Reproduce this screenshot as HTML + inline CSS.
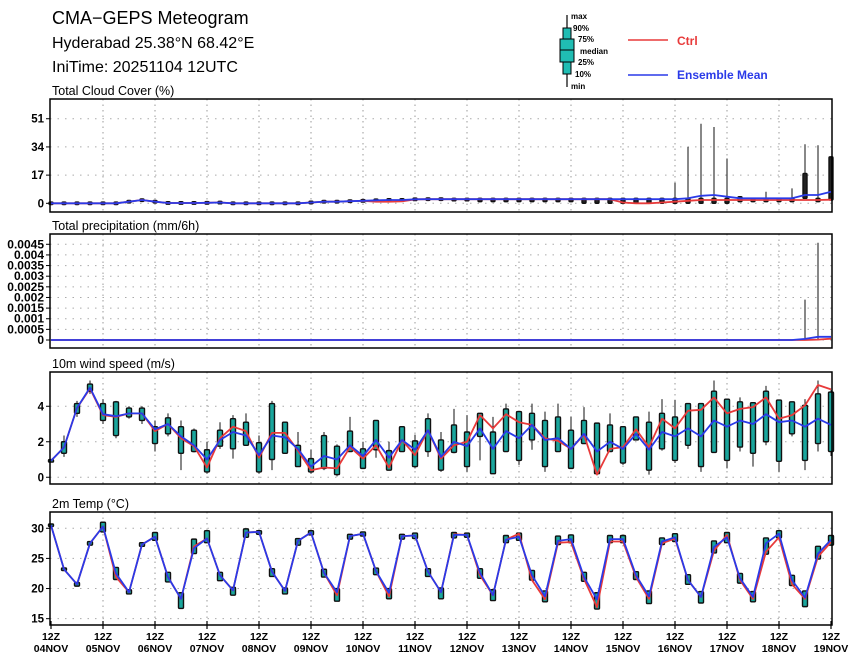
<!DOCTYPE html>
<html><head><meta charset="utf-8">
<style>
html,body{margin:0;padding:0;background:#fff;}
svg{display:block;font-family:"Liberation Sans",sans-serif;}
</style></head>
<body>
<svg id="chart" width="860" height="662" viewBox="0 0 860 662">
<g>
<text x="52" y="24" font-size="18">CMA−GEPS Meteogram</text>
<text x="52" y="48" font-size="16">Hyderabad 25.38°N 68.42°E</text>
<text x="52" y="72" font-size="16">IniTime: 20251104 12UTC</text>
</g>
<g font-weight="bold" font-size="8">
<line x1="567" y1="15" x2="567" y2="87" stroke="#000" stroke-width="1.2"/>
<rect x="563" y="28" width="8" height="46" fill="#20bdb3" stroke="#000"/>
<rect x="560" y="39" width="14" height="23" fill="#20bdb3" stroke="#000"/>
<line x1="560" y1="50" x2="574" y2="50" stroke="#000"/>
<text x="571" y="19">max</text>
<text x="573" y="31">90%</text>
<text x="578" y="42">75%</text>
<text x="580" y="54">median</text>
<text x="578" y="65">25%</text>
<text x="575" y="77">10%</text>
<text x="571" y="89">min</text>
<line x1="628" y1="40" x2="668" y2="40" stroke="#e83a3a" stroke-width="1.5"/>
<text x="677" y="45" font-size="12" fill="#e83a3a">Ctrl</text>
<line x1="628" y1="75" x2="668" y2="75" stroke="#2a3ae8" stroke-width="1.5"/>
<text x="677" y="79" font-size="12" fill="#2a3ae8">Ensemble Mean</text>
</g>
</svg>
<script>
// ---- time axis ----
const dayLabels = ["04NOV","05NOV","06NOV","07NOV","08NOV","09NOV","10NOV","11NOV","12NOV","13NOV","14NOV","15NOV","16NOV","17NOV","18NOV","19NOV"];
const nSteps = 61;

// ---- cloud cover ----
const cloudTicks = [0,17,34,51];
const cloudMean = [0,0,0,0,0,0,1,2,1,0.2,0.2,0.2,0.3,0.5,0,0,0,0,0,0,0.5,1,1,1.3,1.5,1.8,2,2,2.4,2.5,2.5,2.5,2.5,2.5,2.5,2.5,2.5,2.5,2.5,2.5,2.5,2.5,2.5,2.5,2.5,2.5,2.5,2.5,2.5,3,4.5,5,4,3,3,3,3,3,5,5,7];
const cloudCtrl = [0,0,0,0,0,0,1,2,1,0.2,0.2,0.2,0.3,0.5,0,0,0,0,0,0,0.5,1,1,1.3,1.5,1,1,1.2,2.4,2.5,2.5,2.5,2.5,2.5,2.5,2.5,2.5,2.5,2.5,2.5,2.5,2.5,2.5,2.5,0.5,0,0,0.5,1,1.5,2,2,2,2,2,2,2,2,2,2,2.2];
const cloudMax = [0,0,0,0,0,0,1.5,2.5,1.5,0.5,0.5,0.5,0.6,0.8,0,0,0,0,0,0,1,1.5,1.5,1.8,2,2.3,2.5,2.5,2.9,3,3,3,3,3,3,3,3,3,3,3,3,3,3,3,3,3,3,3,12.4,34,48,46,27,4,3,7,3,9,35.6,35,28];
const cloudHi = [0,0,0,0,0,0,1.5,2.6,1.5,0.4,0.4,0.4,0.6,0.9,0,0,0,0,0,0,1,1.5,1.5,1.8,2,2.3,2.5,2.5,2.9,3,3,3,3,3,3,3,3,3,3,3,3,3,3,3,3,3,3,3,3,3,3,3,3,4,3,3,3,3,18,3,28];
const cloudLo = [0,0,0,0,0,0,0.5,1.2,0.5,0,0,0,0,0,0,0,0,0,0,0,0,0.5,0.5,0.8,1,1.3,1.5,1.5,1.9,2,2,1.5,1.5,1,1,1,1,1,1,1,1,0,0,0,0,0,0,0,0,0,0,0,0,1,1,1,1,1,3,1,2];

// ---- precipitation ----
const precipTicks = [0,0.0005,0.001,0.0015,0.002,0.0025,0.003,0.0035,0.004,0.0045];
const precipTickLabels = ["0","0.0005","0.001","0.0015","0.002","0.0025","0.003","0.0035","0.004","0.0045"];
const precipMean = [0,0,0,0,0,0,0,0,0,0,0,0,0,0,0,0,0,0,0,0,0,0,0,0,0,0,0,0,0,0,0,0,0,0,0,0,0,0,0,0,0,0,0,0,0,0,0,0,0,0,0,0,0,0,0,0,0,0,0.00005,0.00015,0.00015];
const precipCtrl = [0,0,0,0,0,0,0,0,0,0,0,0,0,0,0,0,0,0,0,0,0,0,0,0,0,0,0,0,0,0,0,0,0,0,0,0,0,0,0,0,0,0,0,0,0,0,0,0,0,0,0,0,0,0,0,0,0,0,0,0.00002,0.00006];
const precipMax = [0,0,0,0,0,0,0,0,0,0,0,0,0,0,0,0,0,0,0,0,0,0,0,0,0,0,0,0,0,0,0,0,0,0,0,0,0,0,0,0,0,0,0,0,0,0,0,0,0,0,0,0,0,0,0,0,0,0,0.0019,0.00457,0];

// ---- wind ----
const windTicks = [0,2,4];
const windMean = [0.93,1.68,3.9,5.05,3.55,3.44,3.6,3.6,2.7,3.0,2.3,1.8,1.0,2.1,2.55,2.35,1.25,2.35,2.25,1.6,0.6,1.2,1.0,1.8,1.2,2.1,1.1,2.1,1.55,2.65,1.15,2.0,1.75,2.75,1.6,2.6,2.2,2.95,2.1,2.2,1.6,2.45,1.45,2.0,1.6,2.45,1.55,2.55,2.3,2.75,2.3,3.2,2.85,3.2,3.0,3.55,3.1,3.2,2.85,3.3,2.95];
const windCtrl = [0.93,1.68,3.9,5.0,3.5,3.4,3.6,3.6,2.6,3.0,2.2,1.75,0.55,2.2,2.85,2.6,1.1,2.5,2.5,1.5,0.4,0.55,0.5,1.7,1.05,1.8,0.55,2.1,1.25,2.65,1.05,1.8,2.0,3.5,2.75,3.55,3.1,2.95,2.2,2.05,1.6,2.4,0.15,1.6,1.7,2.7,1.7,3.3,2.75,3.75,3.8,4.5,3.6,3.85,3.95,4.5,3.3,3.5,4.05,5.2,4.95];
const windP90 = [0.95,2.0,4.15,5.25,4.15,4.25,3.9,3.9,2.85,3.35,2.85,2.65,1.55,2.65,3.3,3.1,1.95,4.15,3.1,1.8,1.05,2.35,1.75,2.6,1.6,3.2,1.5,2.85,2.05,3.3,2.1,2.95,2.55,3.6,2.55,3.85,3.7,3.6,3.2,3.4,2.65,3.2,3.05,2.95,2.85,3.4,3.1,3.6,3.4,4.15,4.15,4.85,4.4,4.25,4.2,4.85,4.35,4.25,4.05,4.7,4.8];
const windP10 = [0.9,1.35,3.6,4.85,3.2,2.35,3.4,3.2,1.9,2.45,1.35,1.45,0.3,1.75,1.6,1.8,0.3,1.0,1.35,0.6,0.3,0.5,0.15,1.45,0.5,1.55,0.4,1.45,0.6,1.45,0.4,1.4,0.6,2.3,0.2,1.45,0.95,2.1,0.6,1.45,0.5,1.9,0.2,1.45,0.8,2.1,0.4,1.6,0.95,1.8,0.6,1.4,0.95,1.7,1.35,2.0,0.9,2.45,0.95,1.9,1.45];
const windMax = [0.95,2.35,4.3,5.45,4.4,4.3,4.0,4.0,3.2,3.6,3.2,2.75,2.0,3.1,3.5,3.6,2.35,4.3,3.1,2.55,1.55,2.55,1.85,3.4,2.0,3.2,2.0,2.85,2.4,3.6,2.55,3.85,3.5,3.6,3.4,4.15,3.7,4.15,3.7,4.15,3.4,3.95,3.05,3.6,2.85,3.4,3.7,4.4,4.35,4.15,4.15,5.45,4.4,4.5,4.2,5.15,4.35,4.25,4.4,5.45,4.9];
const windMin = [0.9,1.15,3.4,4.7,3.0,2.2,3.3,3.0,1.45,2.3,0.4,1.4,0.2,1.6,1.05,1.8,0.2,0.4,1.35,0.6,0.2,0.4,0.05,1.45,0.5,1.1,0.5,1.45,0.5,1.15,0.3,1.35,0.3,0.95,0.2,1.45,0.7,1.55,0.3,1.45,0.5,1.9,0.15,1.45,0.7,2.1,0.15,1.5,0.8,1.6,0.3,1.4,0.5,1.45,0.6,1.8,0.3,2.3,0.4,1.45,1.2];

// ---- temperature ----
const tempTicks = [15,20,25,30];
const tempMean = [30.5,23.2,20.7,27.5,30.3,22.5,19.4,27.3,28.6,21.9,18.3,26.7,28.3,22.2,19.7,29.3,29.4,22.8,19.6,27.9,29.3,22.6,19.4,28.7,29.1,22.9,19.3,28.7,28.8,22.8,19.4,28.9,28.9,22.6,18.9,28.1,28.6,22.2,18.7,27.9,28.2,21.9,18.2,28.2,28.2,22.2,18.7,27.8,28.5,21.4,18.6,26.9,28.5,21.7,18.6,27.5,29.1,21.4,18.5,25.8,28.1];
const tempCtrl = [30.5,23.2,20.7,27.5,30.3,21.9,19.4,27.3,28.6,21.9,18.3,27.0,28.3,22.2,19.7,29.3,29.4,22.8,19.6,27.9,29.3,22.6,18.9,28.7,29.1,22.9,18.7,28.7,28.8,22.8,19.4,29.0,28.9,22.2,18.9,28.1,29.1,21.4,18.2,27.6,27.7,21.6,16.9,27.8,27.8,21.9,18.3,27.5,28.3,21.4,18.6,26.3,28.9,21.4,18.3,26.1,28.5,20.7,18.3,25.3,27.7];
const tempHi = [30.6,23.3,21.0,27.8,31.0,23.5,19.8,27.6,29.3,22.7,19.3,28.2,29.6,22.7,20.2,29.9,29.6,23.3,20.1,28.3,29.6,23.2,20.0,29.0,29.4,23.4,20.0,29.0,29.2,23.3,20.1,29.3,29.2,23.3,19.8,28.8,29.2,23.0,19.6,28.7,28.9,22.7,19.3,28.8,28.8,22.8,19.6,28.4,29.1,22.3,19.5,27.9,29.3,22.5,19.5,28.4,29.6,22.2,19.6,27.0,28.8];
const tempLo = [30.4,23.1,20.4,27.2,29.4,21.5,19.1,27.0,28.0,21.1,16.7,25.8,27.6,21.3,18.9,28.5,29.0,22.0,19.1,27.2,28.9,21.9,17.9,28.2,28.7,22.3,18.3,28.2,28.3,22.0,18.3,28.4,28.5,21.7,18.0,27.6,28.0,21.4,17.8,27.3,27.6,21.2,16.6,27.6,27.6,21.5,17.5,27.3,27.8,20.7,17.6,25.9,27.6,20.9,17.8,25.7,28.4,20.5,17.0,24.9,27.2];

const NS = "http://www.w3.org/2000/svg";
const svg = document.getElementById('chart');
const X0 = 51, DX = 13;
function xAt(i){ return X0 + DX*i; }
function mk(tag, attrs, parent){
  const e = document.createElementNS(NS, tag);
  for (const k in attrs) e.setAttribute(k, attrs[k]);
  (parent||svg).appendChild(e);
  return e;
}
const panels = [
  {key:'cloud', title:'Total Cloud Cover (%)', top:99, bottom:212, vmin:-5.24, vmax:62.9},
  {key:'precip', title:'Total precipitation (mm/6h)', top:234, bottom:348, vmin:-0.000376, vmax:0.004984},
  {key:'wind', title:'10m wind speed (m/s)', top:372, bottom:484, vmin:-0.38, vmax:5.93},
  {key:'temp', title:'2m Temp (°C)', top:512, bottom:625, vmin:13.95, vmax:32.7}
];
function yScale(p){ return v => p.bottom - (v - p.vmin)/(p.vmax - p.vmin)*(p.bottom - p.top); }
const L = 50, R = 832;

function drawPanel(p, ticks, tickLabels, fs){
  const g = mk('g', {});
  
  
  const y = yScale(p);
  const t = mk('text', {x:52, y:p.top-4, 'font-size':12.5}, g);
  t.textContent = p.title;
  
  
  for (let d = 1; d < dayLabels.length-1; d++){
    const gl = mk('line', {x1:xAt(d*4), x2:xAt(d*4), y1:p.top, y2:p.bottom, stroke:'#999', 'stroke-width':1, 'stroke-dasharray':'1.5,4'}, g);
    
    
  }
  ticks.forEach((v, k) => {
    const yy = y(v);
    const gl = mk('line', {x1:L, x2:R, y1:yy, y2:yy, stroke:'#aaa', 'stroke-width':1, 'stroke-dasharray':'1.5,6'}, g);
    
    
    const tk = mk('line', {x1:L-4, x2:L, y1:yy, y2:yy, stroke:'#000', 'stroke-width':1}, g);
    
    
    const lb = mk('text', {x:L-6, y:yy+4, 'font-size':fs||11.5, 'font-weight':'bold', 'text-anchor':'end'}, g);
    lb.textContent = tickLabels ? tickLabels[k] : String(v);
    
    
  });
  p.g = g; p.y = y;
}
function drawBoxes(p, lo, hi, mn, mx, width, name, fill){
  for (let i = 0; i < nSteps; i++){
    const x = xAt(i);
    if (mx[i] > mn[i]){
      const w = mk('line', {x1:x, x2:x, y1:p.y(mx[i]), y2:p.y(mn[i]), stroke:'#111', 'stroke-width':1}, p.g);
      
      
    }
    const y1 = p.y(hi[i]), y2 = p.y(lo[i]);
    const h = Math.max(2.5, y2 - y1);
    const b = mk('rect', {x:x-width/2, y:(y1+y2)/2 - h/2, width:width, height:h, fill:fill||'#1aa69d', stroke:'#111', 'stroke-width':1.4, rx:1}, p.g);
    
    
  }
}
function drawLine(p, vals, color, name){
  const pts = vals.map((v,i) => xAt(i).toFixed(1) + ',' + p.y(v).toFixed(1)).join(' ');
  const l = mk('polyline', {points:pts, fill:'none', stroke:color, 'stroke-width':1.8, 'stroke-linejoin':'round'}, p.g);
  
  
}
function drawFrame(p){
  const f = mk('rect', {x:L, y:p.top, width:R-L, height:p.bottom-p.top, fill:'none', stroke:'#000', 'stroke-width':1.5}, p.g);
  
  
}

// cloud
const pc = panels[0];
drawPanel(pc, cloudTicks);
drawBoxes(pc, cloudLo, cloudHi, cloudLo, cloudMax, 4, 'cloud', '#222');
drawLine(pc, cloudCtrl, '#e83a3a', 'cloud-ctrl-line');
drawLine(pc, cloudMean, '#2a3ae8', 'cloud-mean-line');
drawFrame(pc);

// precip
const pp = panels[1];
drawPanel(pp, precipTicks, precipTickLabels, 12);
for (let i = 0; i < nSteps; i++){
  if (precipMax[i] > 0){
    const w = mk('line', {x1:xAt(i), x2:xAt(i), y1:pp.y(precipMax[i]), y2:pp.y(0), stroke:'#111', 'stroke-width':1}, pp.g);
    
    
  }
}
drawLine(pp, precipCtrl, '#e83a3a', 'precip-ctrl-line');
drawLine(pp, precipMean, '#2a3ae8', 'precip-mean-line');
drawFrame(pp);

// wind
const pw = panels[2];
drawPanel(pw, windTicks);
drawBoxes(pw, windP10, windP90, windMin, windMax, 5, 'wind');
drawLine(pw, windCtrl, '#e83a3a', 'wind-ctrl-line');
drawLine(pw, windMean, '#2a3ae8', 'wind-mean-line');
drawFrame(pw);

// temp
const pt = panels[3];
drawPanel(pt, tempTicks);
drawBoxes(pt, tempLo, tempHi, tempLo, tempHi, 5, 'temp');
drawLine(pt, tempCtrl, '#e83a3a', 'temp-ctrl-line');
drawLine(pt, tempMean, '#2a3ae8', 'temp-mean-line');
drawFrame(pt);

// x axis labels
const xg = mk('g', {});


dayLabels.forEach((d, k) => {
  const x = xAt(k*4);
  const tk = mk('line', {x1:x, x2:x, y1:pt.bottom-4, y2:pt.bottom+4, stroke:'#000', 'stroke-width':1.2}, xg);
  
  
  const a = mk('text', {x:x, y:640, 'font-size':10.5, 'font-weight':'bold', 'text-anchor':'middle'}, xg);
  a.textContent = '12Z';
  
  
  const b = mk('text', {x:x, y:652, 'font-size':10.5, 'font-weight':'bold', 'text-anchor':'middle'}, xg);
  b.textContent = d;
  
  
});
</script>
</body></html>
